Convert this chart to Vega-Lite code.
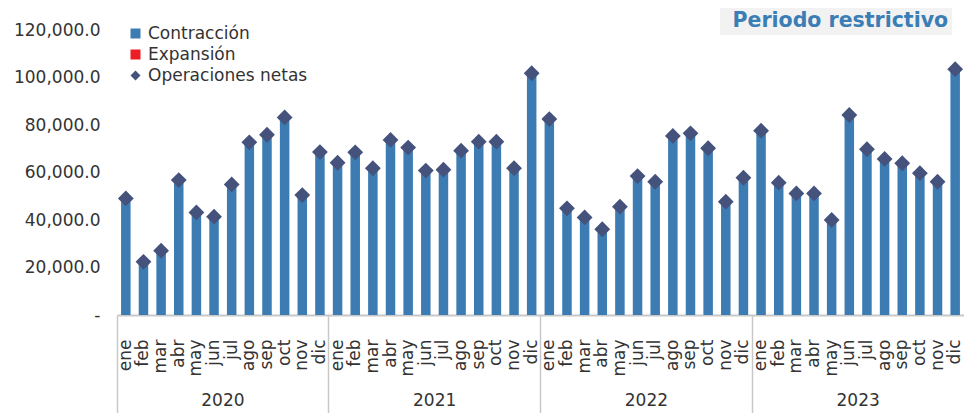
{
  "$schema": "https://vega.github.io/schema/vega-lite/v6.json",
  "width": 847,
  "height": 285,
  "autosize": "none",
  "padding": {"left": 117, "top": 30, "right": 0, "bottom": 98},
  "config": {"font": "DejaVu Sans", "view": {"stroke": null}},
  "data": {"values": [
    {"periodo":"2020-ene","Contracción":49100,"Expansión":0,"Operaciones netas":49100},
    {"periodo":"2020-feb","Contracción":22400,"Expansión":0,"Operaciones netas":22400},
    {"periodo":"2020-mar","Contracción":27100,"Expansión":0,"Operaciones netas":27100},
    {"periodo":"2020-abr","Contracción":56800,"Expansión":0,"Operaciones netas":56800},
    {"periodo":"2020-may","Contracción":43200,"Expansión":0,"Operaciones netas":43200},
    {"periodo":"2020-jun","Contracción":41400,"Expansión":0,"Operaciones netas":41400},
    {"periodo":"2020-jul","Contracción":55000,"Expansión":0,"Operaciones netas":55000},
    {"periodo":"2020-ago","Contracción":72700,"Expansión":0,"Operaciones netas":72700},
    {"periodo":"2020-sep","Contracción":75900,"Expansión":0,"Operaciones netas":75900},
    {"periodo":"2020-oct","Contracción":83200,"Expansión":0,"Operaciones netas":83200},
    {"periodo":"2020-nov","Contracción":50500,"Expansión":0,"Operaciones netas":50500},
    {"periodo":"2020-dic","Contracción":68600,"Expansión":0,"Operaciones netas":68600},
    {"periodo":"2021-ene","Contracción":64100,"Expansión":0,"Operaciones netas":64100},
    {"periodo":"2021-feb","Contracción":68500,"Expansión":0,"Operaciones netas":68500},
    {"periodo":"2021-mar","Contracción":61800,"Expansión":0,"Operaciones netas":61800},
    {"periodo":"2021-abr","Contracción":73700,"Expansión":0,"Operaciones netas":73700},
    {"periodo":"2021-may","Contracción":70500,"Expansión":0,"Operaciones netas":70500},
    {"periodo":"2021-jun","Contracción":60800,"Expansión":0,"Operaciones netas":60800},
    {"periodo":"2021-jul","Contracción":61200,"Expansión":0,"Operaciones netas":61200},
    {"periodo":"2021-ago","Contracción":69200,"Expansión":0,"Operaciones netas":69200},
    {"periodo":"2021-sep","Contracción":73000,"Expansión":0,"Operaciones netas":73000},
    {"periodo":"2021-oct","Contracción":73000,"Expansión":0,"Operaciones netas":73000},
    {"periodo":"2021-nov","Contracción":61800,"Expansión":0,"Operaciones netas":61800},
    {"periodo":"2021-dic","Contracción":101800,"Expansión":0,"Operaciones netas":101800},
    {"periodo":"2022-ene","Contracción":82500,"Expansión":0,"Operaciones netas":82500},
    {"periodo":"2022-feb","Contracción":44900,"Expansión":0,"Operaciones netas":44900},
    {"periodo":"2022-mar","Contracción":41100,"Expansión":0,"Operaciones netas":41100},
    {"periodo":"2022-abr","Contracción":36100,"Expansión":0,"Operaciones netas":36100},
    {"periodo":"2022-may","Contracción":45600,"Expansión":0,"Operaciones netas":45600},
    {"periodo":"2022-jun","Contracción":58500,"Expansión":0,"Operaciones netas":58500},
    {"periodo":"2022-jul","Contracción":56100,"Expansión":0,"Operaciones netas":56100},
    {"periodo":"2022-ago","Contracción":75400,"Expansión":0,"Operaciones netas":75400},
    {"periodo":"2022-sep","Contracción":76500,"Expansión":0,"Operaciones netas":76500},
    {"periodo":"2022-oct","Contracción":70200,"Expansión":0,"Operaciones netas":70200},
    {"periodo":"2022-nov","Contracción":47700,"Expansión":0,"Operaciones netas":47700},
    {"periodo":"2022-dic","Contracción":57800,"Expansión":0,"Operaciones netas":57800},
    {"periodo":"2023-ene","Contracción":77600,"Expansión":0,"Operaciones netas":77600},
    {"periodo":"2023-feb","Contracción":55700,"Expansión":0,"Operaciones netas":55700},
    {"periodo":"2023-mar","Contracción":51200,"Expansión":0,"Operaciones netas":51200},
    {"periodo":"2023-abr","Contracción":51200,"Expansión":0,"Operaciones netas":51200},
    {"periodo":"2023-may","Contracción":40000,"Expansión":0,"Operaciones netas":40000},
    {"periodo":"2023-jun","Contracción":84200,"Expansión":0,"Operaciones netas":84200},
    {"periodo":"2023-jul","Contracción":69800,"Expansión":0,"Operaciones netas":69800},
    {"periodo":"2023-ago","Contracción":65700,"Expansión":0,"Operaciones netas":65700},
    {"periodo":"2023-sep","Contracción":63900,"Expansión":0,"Operaciones netas":63900},
    {"periodo":"2023-oct","Contracción":59700,"Expansión":0,"Operaciones netas":59700},
    {"periodo":"2023-nov","Contracción":56100,"Expansión":0,"Operaciones netas":56100},
    {"periodo":"2023-dic","Contracción":103500,"Expansión":0,"Operaciones netas":103500}
  ]},
  "resolve": {"axis": {"x": "independent"}},
  "layer": [
    {
      "transform": [{"fold": ["Contracción", "Expansión"], "as": ["serie", "valor"]}],
      "mark": {"type": "bar"},
      "encoding": {
        "x": {
          "field": "periodo", "type": "ordinal", "sort": null,
          "scale": {"paddingInner": 0, "paddingOuter": 0},
          "axis": {
            "orient": "bottom",
            "title": null,
            "labelExpr": "split(datum.value, '-')[1]",
            "labelAngle": -90,
            "labelFontSize": 17,
            "labelColor": "#333333",
            "labelPadding": 24,
            "labelOverlap": false,
            "labelBound": false,
            "ticks": false,
            "domainColor": "#c8c8c8",
            "domainWidth": 2
          }
        },
        "y": {
          "field": "valor", "type": "quantitative",
          "scale": {"domain": [0, 120000], "nice": false},
          "axis": {
            "title": null,
            "values": [0, 20000, 40000, 60000, 80000, 100000, 120000],
            "labelExpr": "datum.value == 0 ? '-' : format(datum.value, ',.1f')",
            "labelFontSize": 17,
            "labelColor": "#333333",
            "labelPadding": 17,
            "domain": false,
            "ticks": false,
            "grid": false
          }
        },
        "color": {
          "field": "serie", "type": "nominal",
          "scale": {"domain": ["Contracción", "Expansión", "Operaciones netas"], "range": ["#3c7cb2", "#ee1c25", "#44527c"]},
          "legend": {
            "title": null,
            "orient": "none",
            "legendX": 10,
            "legendY": -5,
            "padding": 0,
            "labelFontSize": 17,
            "labelColor": "#333333",
            "symbolSize": 100,
            "rowPadding": 3
          }
        },
        "size": {
          "datum": "Periodo restrictivo", "type": "nominal",
          "scale": {"range": [9.5, 9.5]},
          "legend": {
            "title": null,
            "orient": "none",
            "legendX": 603,
            "legendY": -22,
            "fillColor": "#f2f2f2",
            "padding": 3,
            "symbolOpacity": 0,
            "labelOffset": -11,
            "labelLimit": 400,
            "labelExpr": "datum.label + '\u00a0\u00a0\u00a0\u00a0\u00a0\u00a0'",
            "labelFontSize": 20.5,
            "labelFontWeight": "bold",
            "labelColor": "#3b7db5"
          }
        }
      }
    },
    {
      "transform": [{"fold": ["Operaciones netas"], "as": ["serie", "valor"]}],
      "mark": {"type": "point", "shape": "diamond", "filled": true, "size": 250, "opacity": 1},
      "encoding": {
        "x": {
          "field": "periodo", "type": "ordinal", "sort": null,
          "axis": {
            "orient": "bottom",
            "title": null,
            "labelExpr": "split(datum.value, '-')[1] == 'jul' ? split(datum.value, '-')[0] : ''",
            "labelAngle": 0,
            "labelFontSize": 17,
            "labelColor": "#333333",
            "labelOffset": -8.8,
            "labelPadding": -21,
            "labelOverlap": false,
            "labelBound": false,
            "domain": false,
            "bandPosition": 0,
            "tickSize": 98,
            "tickWidth": 1.5,
            "tickColor": "#c8c8c8",
            "tickOpacity": {"condition": {"test": "split(datum.value, '-')[1] == 'ene'", "value": 1}, "value": 0}
          }
        },
        "y": {
          "field": "valor", "type": "quantitative",
          "scale": {"domain": [0, 120000], "nice": false},
          "axis": {
            "title": null,
            "values": [0, 20000, 40000, 60000, 80000, 100000, 120000],
            "labelExpr": "datum.value == 0 ? '-' : format(datum.value, ',.1f')",
            "labelFontSize": 17,
            "labelColor": "#333333",
            "labelPadding": 17,
            "domain": false,
            "ticks": false,
            "grid": false
          }
        },
        "color": {"field": "serie", "type": "nominal"},
        "shape": {
          "field": "serie", "type": "nominal",
          "scale": {"domain": ["Contracción", "Expansión", "Operaciones netas"], "range": ["square", "square", "diamond"]}
        }
      }
    }
  ]
}
